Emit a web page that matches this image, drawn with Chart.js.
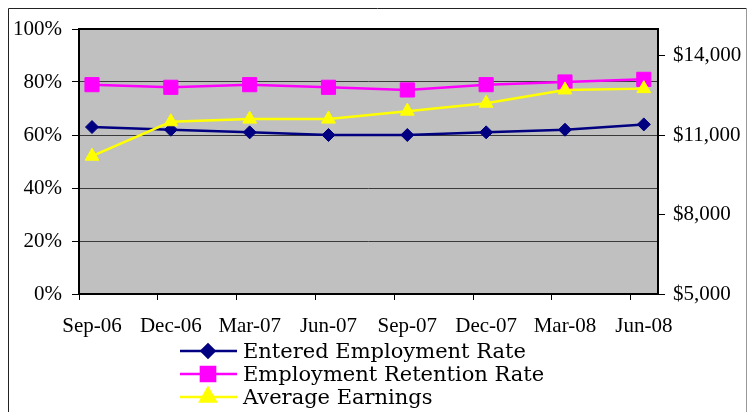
<!DOCTYPE html>
<html>
<head>
<meta charset="utf-8">
<script src="https://cdn.jsdelivr.net/npm/chart.js@4/dist/chart.umd.min.js"></script>
<style>
  body { margin: 0; background: #fff; }
  #wrap { position: relative; width: 749px; height: 412px; overflow: hidden; }
  #grafico { position: absolute; left: 0; top: 0; }
  #leyenda { position: absolute; left: 180px; top: 339px; font-family: "DejaVu Serif", serif; font-size: 21px; color: #000; }
  #leyenda .fila { display: flex; align-items: center; height: 23px; }
  #leyenda canvas { margin-right: 6px; }
</style>
</head>
<body>
<div id="wrap">
  <canvas id="grafico" width="749" height="412"></canvas>
  <div id="leyenda"></div>
</div>
<script>
// datos
const trimestres = ['Sep-06', 'Dec-06', 'Mar-07', 'Jun-07', 'Sep-07', 'Dec-07', 'Mar-08', 'Jun-08'];
const entered = [63, 62, 61, 60, 60, 61, 62, 64];
const retention = [79, 78, 79, 78, 77, 79, 80, 81];
const earnings = [10200, 11500, 11600, 11600, 11900, 12200, 12700, 12750];
const ticksDerecha = [5000, 8000, 11000, 14000];

const FUENTE = 'Liberation Serif';
const corrimiento = 0.165; // las marcas del eje x van un poco antes de los puntos

function puntos(valores){
	return valores.map((v, i) => ({x: i, y: v}));
}

const series = [
	{label: 'Entered Employment Rate', data: puntos(entered), color: '#000080', estilo: 'rectRot', radio: 6.5, eje: 'y', orden: 2},
	{label: 'Employment Retention Rate', data: puntos(retention), color: '#FF00FF', estilo: 'rect', radio: 10, eje: 'y', orden: 1},
	{label: 'Average Earnings', data: puntos(earnings), color: '#FFFF00', estilo: 'triangle', radio: 8, eje: 'y1', orden: 0}
];

// fondo gris del area y marco del grafico
const fondo = {
	id: 'fondo',
	beforeDraw(chart){
		const {ctx, chartArea: a} = chart;
		ctx.save();
		ctx.fillStyle = '#C0C0C0';
		ctx.fillRect(a.left, a.top, a.right - a.left, a.bottom - a.top);
		// marco exterior
		ctx.lineWidth = 1;
		ctx.strokeStyle = '#222';
		ctx.beginPath();
		ctx.moveTo(8.5, 420);
		ctx.lineTo(8.5, 8.5);
		ctx.lineTo(746.5, 8.5);
		ctx.stroke();
		ctx.strokeStyle = '#999';
		ctx.beginPath();
		ctx.moveTo(746.5, 8.5);
		ctx.lineTo(746.5, 420);
		ctx.stroke();
		ctx.restore();
	},
	beforeDatasetsDraw(chart){
		const {ctx, chartArea: a} = chart;
		ctx.save();
		ctx.lineWidth = 2;
		ctx.strokeStyle = '#000';
		ctx.strokeRect(a.left, a.top, a.right - a.left, a.bottom - a.top);
		ctx.restore();
	}
};

const config = {
	type: 'line',
	data: {
		datasets: series.map(s => ({
			label: s.label,
			data: s.data,
			yAxisID: s.eje,
			order: s.orden,
			borderColor: s.color,
			backgroundColor: s.color,
			borderWidth: 2.5,
			pointStyle: s.estilo,
			pointRadius: s.radio,
			pointBorderWidth: 1,
			pointBorderColor: s.color,
			pointBackgroundColor: s.color,
			tension: 0
		}))
	},
	options: {
		responsive: false,
		animation: false,
		layout: {padding: {top: 29, left: 0, right: 0, bottom: 0}},
		plugins: {legend: {display: false}, tooltip: {enabled: false}},
		scales: {
			x: {
				type: 'linear',
				min: -corrimiento,
				max: 7.18,
				afterBuildTicks: scale => {
					scale.ticks = trimestres.map((t, i) => ({value: i - corrimiento}));
				},
				afterFit: scale => { scale.height = 118; },
				border: {display: false},
				grid: {drawOnChartArea: false, tickLength: 6, tickColor: '#000', lineWidth: 1},
				ticks: {
					callback: (v, i) => trimestres[i],
					labelOffset: 13,
					padding: 14,
					maxRotation: 0,
					autoSkip: false,
					color: '#000',
					font: {family: FUENTE, size: 21}
				}
			},
			y: {
				position: 'left',
				min: 0,
				max: 100,
				afterFit: scale => { scale.width = 79; },
				border: {display: false},
				grid: {color: '#3a3a3a', lineWidth: 1, tickLength: 7, tickColor: '#000'},
				ticks: {
					stepSize: 20,
					padding: 10,
					color: '#000',
					font: {family: FUENTE, size: 21},
					callback: v => v + '%'
				}
			},
			y1: {
				position: 'right',
				min: 5000,
				max: 15000,
				afterBuildTicks: scale => {
					scale.ticks = ticksDerecha.map(v => ({value: v}));
				},
				afterFit: scale => { scale.width = 91; },
				border: {display: false},
				grid: {drawOnChartArea: false, tickLength: 7, tickColor: '#000'},
				ticks: {
					padding: 8,
					color: '#000',
					font: {family: FUENTE, size: 21},
					callback: v => '$' + v.toLocaleString('en-US')
				}
			}
		}
	},
	plugins: [fondo]
};

const grafico = new Chart(document.querySelector('#grafico'), config);

// leyenda vertical como la del original
function armaLeyenda(){
	const cont = document.querySelector('#leyenda');
	series.forEach(s => {
		const fila = document.createElement('div');
		fila.className = 'fila';
		const c = document.createElement('canvas');
		c.width = 57; c.height = 22;
		const ctx = c.getContext('2d');
		ctx.strokeStyle = s.color;
		ctx.lineWidth = 2.5;
		ctx.beginPath();
		ctx.moveTo(0, 11);
		ctx.lineTo(57, 11);
		ctx.stroke();
		ctx.fillStyle = s.color;
		Chart.helpers.drawPoint(ctx, {pointStyle: s.estilo, radius: s.estilo === 'triangle' ? 9 : s.radio, rotation: 0, borderWidth: 1}, 28, 11);
		const txt = document.createElement('span');
		txt.textContent = s.label;
		fila.appendChild(c);
		fila.appendChild(txt);
		cont.appendChild(fila);
	});
}
armaLeyenda();
</script>
</body>
</html>
